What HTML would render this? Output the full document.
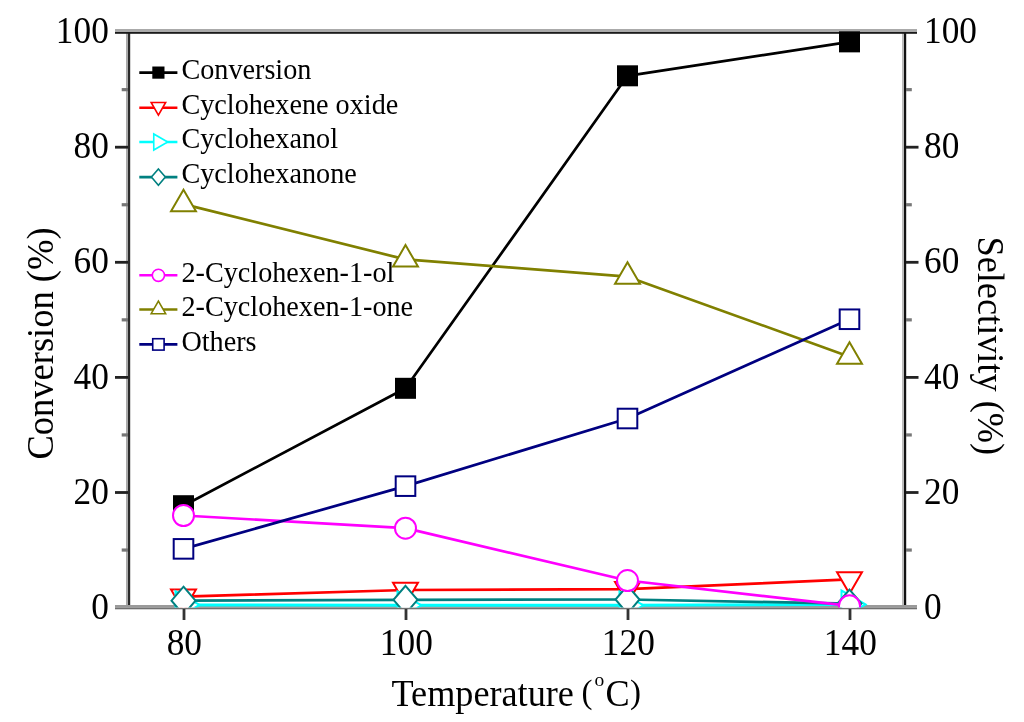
<!DOCTYPE html>
<html><head><meta charset="utf-8"><style>
html,body{margin:0;padding:0;background:#fff;}
body{width:1024px;height:722px;overflow:hidden;}
svg{display:block;filter:blur(0.45px);}
text{font-family:"Liberation Serif", serif;fill:#000;}
</style></head><body>
<svg width="1024" height="722" viewBox="0 0 1024 722">
<defs><clipPath id="pc"><rect x="128" y="30" width="777" height="577.6"/></clipPath></defs>
<rect width="1024" height="722" fill="#fff"/>

<g>
<rect x="126" y="31" width="2" height="576" fill="#aaa"/>
<rect x="128" y="31" width="2.2" height="576" fill="#2a2a2a"/>
<rect x="902" y="31" width="2" height="576" fill="#bbb"/>
<rect x="904" y="31" width="2.2" height="576" fill="#111"/>
<rect x="115" y="29" width="802" height="3" fill="#aaa"/>
<rect x="115" y="32" width="802" height="1.8" fill="#1a1a1a"/>
<rect x="115" y="605" width="802" height="2.5" fill="#9a9a9a"/>
<rect x="115" y="607.5" width="802" height="1.8" fill="#707070"/>
</g>
<rect x="121.70" y="548.45" width="6.30" height="3.2" fill="#777"/>
<rect x="906" y="548.45" width="5.80" height="3.2" fill="#777"/>
<rect x="115.00" y="491.10" width="13.00" height="2.8" fill="#222"/>
<rect x="906" y="491.10" width="12.50" height="2.8" fill="#222"/>
<rect x="121.70" y="433.35" width="6.30" height="3.2" fill="#777"/>
<rect x="906" y="433.35" width="5.80" height="3.2" fill="#777"/>
<rect x="115.00" y="376.00" width="13.00" height="2.8" fill="#222"/>
<rect x="906" y="376.00" width="12.50" height="2.8" fill="#222"/>
<rect x="121.70" y="318.25" width="6.30" height="3.2" fill="#777"/>
<rect x="906" y="318.25" width="5.80" height="3.2" fill="#777"/>
<rect x="115.00" y="260.90" width="13.00" height="2.8" fill="#222"/>
<rect x="906" y="260.90" width="12.50" height="2.8" fill="#222"/>
<rect x="121.70" y="203.15" width="6.30" height="3.2" fill="#777"/>
<rect x="906" y="203.15" width="5.80" height="3.2" fill="#777"/>
<rect x="115.00" y="145.80" width="13.00" height="2.8" fill="#222"/>
<rect x="906" y="145.80" width="12.50" height="2.8" fill="#222"/>
<rect x="121.70" y="88.05" width="6.30" height="3.2" fill="#777"/>
<rect x="906" y="88.05" width="5.80" height="3.2" fill="#777"/>
<rect x="182.60" y="609" width="2.8" height="11" fill="#333"/>
<rect x="404.60" y="609" width="2.8" height="11" fill="#333"/>
<rect x="626.60" y="609" width="2.8" height="11" fill="#333"/>
<rect x="848.60" y="609" width="2.8" height="11" fill="#333"/>
<g clip-path="url(#pc)">
<polyline points="183.50,505.71 405.50,388.31 627.50,75.81 849.50,41.86" fill="none" stroke="#000000" stroke-width="2.7" stroke-linejoin="round"/>
<rect x="173.00" y="495.21" width="21.00" height="21.00" fill="#000000"/>
<rect x="395.00" y="377.81" width="21.00" height="21.00" fill="#000000"/>
<rect x="617.00" y="65.31" width="21.00" height="21.00" fill="#000000"/>
<rect x="839.00" y="31.36" width="21.00" height="21.00" fill="#000000"/>
<polyline points="183.50,596.64 405.50,590.02 627.50,589.16 849.50,579.38" fill="none" stroke="#ff0000" stroke-width="2.7" stroke-linejoin="round"/>
<polygon points="183.50,611.04 171.03,589.44 195.97,589.44" fill="#fff" stroke="#ff0000" stroke-width="2.0" stroke-linejoin="miter"/>
<polygon points="405.50,604.42 393.03,582.82 417.97,582.82" fill="#fff" stroke="#ff0000" stroke-width="2.0" stroke-linejoin="miter"/>
<polygon points="627.50,603.56 615.03,581.96 639.97,581.96" fill="#fff" stroke="#ff0000" stroke-width="2.0" stroke-linejoin="miter"/>
<polygon points="849.50,593.78 837.03,572.18 861.97,572.18" fill="#fff" stroke="#ff0000" stroke-width="2.0" stroke-linejoin="miter"/>
<polyline points="183.50,604.99 405.50,605.27 627.50,605.27 849.50,604.41" fill="none" stroke="#00ffff" stroke-width="3.0" stroke-linejoin="round"/>
<polygon points="199.50,604.99 175.50,591.13 175.50,618.84" fill="#fff" stroke="#00ffff" stroke-width="2.0" stroke-linejoin="miter"/>
<polygon points="421.50,605.27 397.50,591.42 397.50,619.13" fill="#fff" stroke="#00ffff" stroke-width="2.0" stroke-linejoin="miter"/>
<polygon points="643.50,605.27 619.50,591.42 619.50,619.13" fill="#fff" stroke="#00ffff" stroke-width="2.0" stroke-linejoin="miter"/>
<polygon points="865.50,604.41 841.50,590.55 841.50,618.27" fill="#fff" stroke="#00ffff" stroke-width="2.0" stroke-linejoin="miter"/>
<polyline points="183.50,600.67 405.50,599.81 627.50,599.52 849.50,603.55" fill="none" stroke="#008080" stroke-width="2.7" stroke-linejoin="round"/>
<polygon points="183.50,586.67 195.50,600.67 183.50,614.67 171.50,600.67" fill="#fff" stroke="#008080" stroke-width="2.0" stroke-linejoin="miter"/>
<polygon points="405.50,585.81 417.50,599.81 405.50,613.81 393.50,599.81" fill="#fff" stroke="#008080" stroke-width="2.0" stroke-linejoin="miter"/>
<polygon points="627.50,585.52 639.50,599.52 627.50,613.52 615.50,599.52" fill="#fff" stroke="#008080" stroke-width="2.0" stroke-linejoin="miter"/>
<polygon points="849.50,589.55 861.50,603.55 849.50,617.55 837.50,603.55" fill="#fff" stroke="#008080" stroke-width="2.0" stroke-linejoin="miter"/>
<polyline points="183.50,515.50 405.50,528.16 627.50,580.53 849.50,605.85" fill="none" stroke="#ff00ff" stroke-width="2.7" stroke-linejoin="round"/>
<circle cx="183.50" cy="515.50" r="10.50" fill="#fff" stroke="#ff00ff" stroke-width="2.0"/>
<circle cx="405.50" cy="528.16" r="10.50" fill="#fff" stroke="#ff00ff" stroke-width="2.0"/>
<circle cx="627.50" cy="580.53" r="10.50" fill="#fff" stroke="#ff00ff" stroke-width="2.0"/>
<circle cx="849.50" cy="605.85" r="10.50" fill="#fff" stroke="#ff00ff" stroke-width="2.0"/>
<polyline points="183.50,204.15 405.50,259.40 627.50,276.66 849.50,356.66" fill="none" stroke="#808000" stroke-width="2.7" stroke-linejoin="round"/>
<polygon points="183.50,189.75 171.03,211.35 195.97,211.35" fill="#fff" stroke="#808000" stroke-width="2.0" stroke-linejoin="miter"/>
<polygon points="405.50,245.00 393.03,266.60 417.97,266.60" fill="#fff" stroke="#808000" stroke-width="2.0" stroke-linejoin="miter"/>
<polygon points="627.50,262.26 615.03,283.86 639.97,283.86" fill="#fff" stroke="#808000" stroke-width="2.0" stroke-linejoin="miter"/>
<polygon points="849.50,342.26 837.03,363.86 861.97,363.86" fill="#fff" stroke="#808000" stroke-width="2.0" stroke-linejoin="miter"/>
<polyline points="183.50,548.87 405.50,486.14 627.50,418.52 849.50,319.25" fill="none" stroke="#000080" stroke-width="2.7" stroke-linejoin="round"/>
<rect x="173.70" y="539.07" width="19.60" height="19.60" fill="#fff" stroke="#000080" stroke-width="2.0"/>
<rect x="395.70" y="476.34" width="19.60" height="19.60" fill="#fff" stroke="#000080" stroke-width="2.0"/>
<rect x="617.70" y="408.72" width="19.60" height="19.60" fill="#fff" stroke="#000080" stroke-width="2.0"/>
<rect x="839.70" y="309.45" width="19.60" height="19.60" fill="#fff" stroke="#000080" stroke-width="2.0"/>
</g>
<text transform="translate(108.8,618.70) scale(1,1.07)" font-size="35.3" text-anchor="end">0</text>
<text transform="translate(924,618.70) scale(1,1.07)" font-size="35.3">0</text>
<text transform="translate(108.8,503.60) scale(1,1.07)" font-size="35.3" text-anchor="end">20</text>
<text transform="translate(924,503.60) scale(1,1.07)" font-size="35.3">20</text>
<text transform="translate(108.8,388.50) scale(1,1.07)" font-size="35.3" text-anchor="end">40</text>
<text transform="translate(924,388.50) scale(1,1.07)" font-size="35.3">40</text>
<text transform="translate(108.8,273.40) scale(1,1.07)" font-size="35.3" text-anchor="end">60</text>
<text transform="translate(924,273.40) scale(1,1.07)" font-size="35.3">60</text>
<text transform="translate(108.8,158.30) scale(1,1.07)" font-size="35.3" text-anchor="end">80</text>
<text transform="translate(924,158.30) scale(1,1.07)" font-size="35.3">80</text>
<text transform="translate(108.8,43.20) scale(1,1.07)" font-size="35.3" text-anchor="end">100</text>
<text transform="translate(924,43.20) scale(1,1.07)" font-size="35.3">100</text>
<text transform="translate(184.30,655) scale(1,1.07)" font-size="35.3" text-anchor="middle">80</text>
<text transform="translate(406.30,655) scale(1,1.07)" font-size="35.3" text-anchor="middle">100</text>
<text transform="translate(628.30,655) scale(1,1.07)" font-size="35.3" text-anchor="middle">120</text>
<text transform="translate(850.30,655) scale(1,1.07)" font-size="35.3" text-anchor="middle">140</text>
<text transform="translate(391.5,706.2) scale(1,1.05)" font-size="36.2">Temperature</text>
<text transform="translate(581.6,703.4) scale(1,1.0)" font-size="33">(</text>
<text transform="translate(594.4,686.2)" font-size="19.5">o</text>
<text transform="translate(605.6,706.2) scale(1,1.05)" font-size="36.2">C</text>
<text transform="translate(629.9,703.4) scale(1,1.0)" font-size="33">)</text>
<text transform="translate(53,343.5) rotate(-90) scale(1,1.03)" font-size="36.5" text-anchor="middle">Conversion (%)</text>
<text transform="translate(977.8,345.8) rotate(90) scale(1,1.04)" font-size="36.3" text-anchor="middle">Selectivity (%)</text>
<line x1="139.3" y1="72.6" x2="177.4" y2="72.6" stroke="#000000" stroke-width="2.6"/>
<rect x="152.31" y="66.51" width="12.18" height="12.18" fill="#000000"/>
<text transform="translate(181.4,78.80) scale(1,1.05)" font-size="28.2">Conversion</text>
<line x1="139.3" y1="107.7" x2="177.4" y2="107.7" stroke="#ff0000" stroke-width="2.6"/>
<polygon points="158.40,115.05 151.17,102.52 165.63,102.52" fill="#fff" stroke="#ff0000" stroke-width="1.6" stroke-linejoin="miter"/>
<text transform="translate(181.4,113.90) scale(1,1.05)" font-size="28.2">Cyclohexene oxide</text>
<line x1="139.3" y1="142.0" x2="177.4" y2="142.0" stroke="#00ffff" stroke-width="2.6"/>
<polygon points="167.68,142.00 153.76,133.96 153.76,150.04" fill="#fff" stroke="#00ffff" stroke-width="1.6" stroke-linejoin="miter"/>
<text transform="translate(181.4,148.20) scale(1,1.05)" font-size="28.2">Cyclohexanol</text>
<line x1="139.3" y1="177.1" x2="177.4" y2="177.1" stroke="#008080" stroke-width="2.6"/>
<polygon points="158.40,168.98 165.36,177.10 158.40,185.22 151.44,177.10" fill="#fff" stroke="#008080" stroke-width="1.6" stroke-linejoin="miter"/>
<text transform="translate(181.4,183.30) scale(1,1.05)" font-size="28.2">Cyclohexanone</text>
<line x1="139.3" y1="275.3" x2="177.4" y2="275.3" stroke="#ff00ff" stroke-width="2.6"/>
<circle cx="158.40" cy="275.30" r="6.09" fill="#fff" stroke="#ff00ff" stroke-width="1.6"/>
<text transform="translate(181.4,281.50) scale(1,1.05)" font-size="28.2">2-Cyclohexen-1-ol</text>
<line x1="139.3" y1="309.5" x2="177.4" y2="309.5" stroke="#808000" stroke-width="2.6"/>
<polygon points="158.40,301.15 151.17,313.68 165.63,313.68" fill="#fff" stroke="#808000" stroke-width="1.6" stroke-linejoin="miter"/>
<text transform="translate(181.4,315.70) scale(1,1.05)" font-size="28.2">2-Cyclohexen-1-one</text>
<line x1="139.3" y1="344.4" x2="177.4" y2="344.4" stroke="#000080" stroke-width="2.6"/>
<rect x="152.72" y="338.72" width="11.37" height="11.37" fill="#fff" stroke="#000080" stroke-width="1.6"/>
<text transform="translate(181.4,350.60) scale(1,1.05)" font-size="28.2">Others</text>
</svg>
</body></html>
